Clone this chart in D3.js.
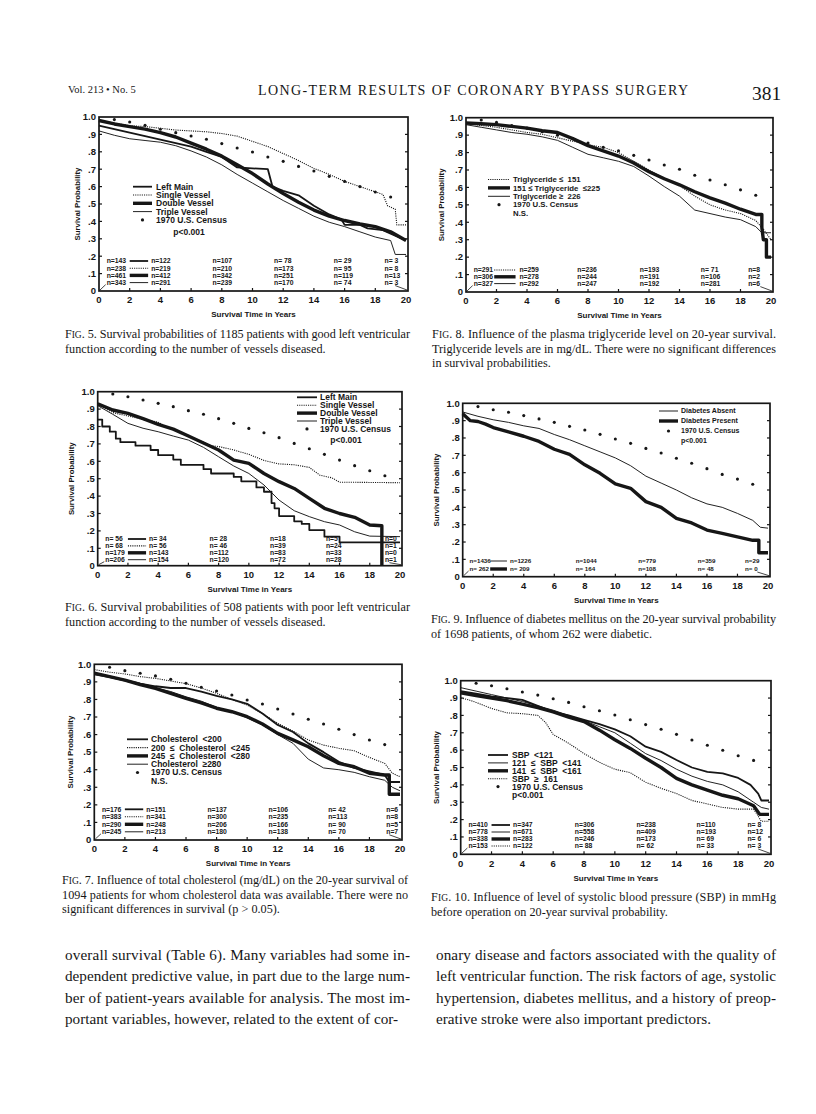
<!DOCTYPE html>
<html><head><meta charset="utf-8">
<script src="https://cdn.jsdelivr.net/npm/d3@7"></script>
<style>body{margin:0;background:#fff} svg{display:block}</style>
</head><body><svg id="page" width="816" height="1114"></svg>
<script>
// ---------- shared ticks ----------
const yTickVals = [0,.1,.2,.3,.4,.5,.6,.7,.8,.9,1];
const yTickLabels = ["0",".1",".2",".3",".4",".5",".6",".7",".8",".9","1.0"];
const xTickVals = [0,2,4,6,8,10,12,14,16,18,20];
const censusYears = [1,2,3,4,5,6,7,8,9,10,11,12,13,14,15,16,17,18,19];
const vesselLabels = ["Left Main","Single Vessel","Double Vessel","Triple Vessel"];

// ---------- Fig 5 ----------
const fig5LeftMain = [[0,.95],[1,.93],[2,.91],[3,.89],[4,.87],[5,.85],[6,.83],[7,.80],[8,.77],[8.5,.74],[9,.71],[11,.70],[11.3,.60],[12,.575],[13,.55],[14,.49],[15,.44],[15.8,.41],[16,.38],[17,.38],[17.5,.36],[18.5,.35],[19,.33],[20,.29]];
const fig5Single = [[0,.98],[1,.965],[2,.95],[3,.945],[4,.935],[5,.925],[6,.92],[7,.915],[8,.905],[9,.89],[10,.86],[11,.83],[12,.79],[13,.75],[14,.705],[15,.67],[16,.63],[17,.60],[18,.57],[18.5,.555],[18.8,.49],[19.3,.47],[19.4,.38],[20,.38]];
const fig5Double = [[0,.98],[1,.96],[2,.945],[3,.93],[4,.91],[5,.885],[6,.85],[7,.815],[8,.775],[9,.725],[10,.675],[11,.615],[12,.56],[13,.51],[14,.465],[15,.43],[16,.405],[17,.385],[18,.37],[19,.34],[20,.29]];
const fig5Triple = [[0,.92],[1,.895],[2,.875],[3,.865],[4,.855],[5,.835],[6,.805],[7,.77],[8,.725],[9,.67],[10,.62],[11,.57],[12,.52],[13,.475],[14,.43],[15,.395],[16,.37],[17,.34],[18,.31],[19,.29],[19.3,.21],[20,.21]];
const fig5Census = [.985,.971,.952,.93,.91,.891,.872,.847,.822,.799,.770,.745,.716,.69,.659,.63,.60,.569,.54];
const fig5NRows = [
 ["n=143","n=122","n=107","n= 78","n= 29","n= 3"],
 ["n=238","n=219","n=210","n=173","n= 95","n= 8"],
 ["n=461","n=412","n=342","n=251","n=119","n=13"],
 ["n=343","n=291","n=239","n=170","n= 74","n= 3"]];

// ---------- Fig 8 ----------
const fig8Labels = ["Triglyceride \u2264  151","151 \u2264 Triglyceride  \u2264225","Triglyceride \u2265  226"];
const fig8Low = [[0,.97],[1,.955],[2,.945],[3,.93],[4,.915],[5,.905],[6,.885],[7,.865],[8,.845],[9,.83],[10,.80],[11,.75],[12,.70],[13,.655],[14,.61],[15,.55],[16,.50],[17,.47],[18,.45],[19,.41],[19.5,.36],[20,.30]];
const fig8Mid = [[0,.97],[1,.965],[2,.96],[3,.95],[4,.94],[5,.925],[6,.915],[7,.88],[8,.84],[9,.81],[10,.78],[11,.74],[12,.69],[13,.65],[14,.615],[15,.575],[16,.54],[17,.51],[18,.475],[19,.445],[19.4,.445],[19.4,.37],[19.5,.30],[19.7,.30],[19.7,.20],[20,.20]];
const fig8High = [[0,.96],[1,.945],[2,.93],[3,.915],[4,.905],[5,.89],[6,.87],[7,.83],[8,.79],[9,.77],[10,.75],[11,.72],[12,.665],[13,.605],[14,.55],[15,.47],[16,.45],[17,.43],[18,.415],[19,.375],[19.4,.34],[20,.34]];
const fig8Census = [.987,.973,.955,.94,.92,.90,.88,.855,.83,.81,.784,.757,.729,.704,.670,.643,.615,.586,.555];
const fig8NRows = [
 ["n=291","n=259","n=236","n=193","n= 71","n=8"],
 ["n=306","n=278","n=244","n=191","n=106","n=2"],
 ["n=327","n=292","n=247","n=192","n=281","n=6"]];

// ---------- Fig 6 ----------
const fig6LeftMain = [[0,.84],[0.3,.80],[0.8,.77],[1.2,.73],[1.5,.71],[2.5,.69],[3.5,.665],[4,.635],[5,.61],[5.5,.58],[7,.555],[7.5,.53],[9,.51],[9.5,.485],[10.5,.45],[11,.425],[11.5,.36],[11.7,.33],[12,.285],[13,.255],[13.5,.24],[14,.205],[15,.167],[16,.134],[20,.134]];
const fig6Single = [[0,.93],[1,.88],[2,.86],[3,.84],[4,.825],[4.5,.80],[5,.78],[6,.745],[7,.71],[7.5,.69],[8,.685],[9,.665],[10,.64],[11,.605],[12,.585],[13,.58],[14,.565],[14.7,.52],[15.5,.505],[16,.48],[20,.477]];
const fig6Double = [[0,.93],[1,.895],[2,.875],[3,.845],[4,.812],[5,.785],[6,.745],[7,.705],[8,.665],[9,.607],[10,.588],[11,.53],[12,.483],[13,.444],[14,.387],[15,.33],[16,.30],[17,.278],[18,.234],[18.8,.23],[18.8,0]];
const fig6Triple = [[0,.92],[1,.87],[2,.818],[3,.79],[4,.77],[5,.745],[6,.722],[7,.68],[8,.626],[9,.573],[10,.53],[11,.464],[12,.377],[13,.316],[14,.282],[15,.253],[16,.234],[17,.195],[18,.17],[20,.167]];
const fig6Census = [.987,.971,.952,.933,.914,.891,.870,.845,.818,.789,.764,.736,.703,.672,.640,.607,.575,.546,.517];
const fig6NRows = [
 ["n= 56","n= 34","n= 28","n=18","n=5","n=0"],
 ["n= 68","n= 56","n= 46","n=39","n=24","n=1"],
 ["n=179","n=143","n=112","n=83","n=33","n=0"],
 ["n=206","n=154","n=120","n=72","n=28","n=1"]];

// ---------- Fig 9 ----------
const fig9Labels = ["Diabetes Absent","Diabetes Present"];
const fig9Absent = [[0,.95],[1,.925],[2,.905],[3,.89],[4,.87],[5,.855],[6,.82],[7,.79],[8,.755],[9,.72],[10,.685],[11,.64],[12,.58],[13,.54],[14,.50],[15,.455],[16,.42],[17,.40],[18,.365],[19,.325],[19.5,.285],[20,.28]];
const fig9Present = [[0,.94],[0.5,.90],[1,.895],[1.5,.88],[2,.86],[3,.835],[4,.81],[5,.78],[6,.735],[7,.705],[8,.645],[9,.596],[10,.535],[11,.51],[12,.433],[13,.40],[14,.337],[15,.31],[16,.269],[17,.25],[18,.23],[19,.21],[19.4,.21],[19.4,.138],[20,.138]];
const fig9Census = [.981,.963,.948,.929,.91,.89,.867,.846,.821,.794,.769,.740,.713,.683,.654,.623,.590,.563,.533];
const fig9NRows = [
 ["n=1436","n=1226","n=1044","n=779","n=359","n=29"],
 ["n= 262","n= 209","n= 164","n=108","n= 48","n= 0"]];

// ---------- Fig 7 ----------
const fig7Labels = ["Cholesterol  <200","200  \u2264  Cholesterol  <245","245  \u2264  Cholesterol  <280","Cholesterol  \u2265280"];
const fig7Low = [[0,.95],[1,.93],[2,.91],[3,.89],[4,.875],[5,.865],[6,.865],[7,.845],[8,.82],[9,.80],[10,.775],[11,.72],[12,.655],[13,.615],[14,.55],[15,.50],[16,.445],[17,.41],[18,.39],[19,.37],[19.3,.33],[20,.33]];
const fig7Mid = [[0,.97],[1,.955],[2,.945],[3,.93],[4,.92],[5,.905],[6,.89],[7,.865],[8,.835],[9,.80],[10,.768],[11,.72],[12,.664],[13,.62],[14,.569],[15,.54],[16,.522],[17,.508],[18,.47],[19,.436],[19.5,.38],[20,.36]];
const fig7High = [[0,.95],[1,.93],[2,.91],[3,.885],[4,.863],[5,.835],[6,.806],[7,.78],[8,.75],[9,.73],[10,.702],[11,.66],[12,.607],[13,.57],[14,.531],[15,.48],[16,.436],[17,.417],[18,.38],[19,.37],[19.3,.37],[19.3,.26],[20,.26]];
const fig7VHigh = [[0,.94],[1,.925],[2,.905],[3,.885],[4,.865],[5,.845],[6,.815],[7,.79],[8,.755],[9,.73],[10,.695],[11,.655],[12,.60],[13,.55],[14,.46],[15,.41],[16,.40],[17,.385],[18,.36],[19,.34],[19.5,.30],[20,.28]];
const fig7Census = [.983,.964,.949,.934,.915,.892,.869,.848,.825,.797,.774,.746,.717,.687,.66,.63,.60,.569,.543];
const fig7NRows = [
 ["n=176","n=151","n=137","n=106","n= 42","n=6"],
 ["n=383","n=341","n=300","n=235","n=113","n=8"],
 ["n=290","n=248","n=206","n=166","n= 90","n=5"],
 ["n=245","n=213","n=180","n=138","n= 70","n=7"]];

// ---------- Fig 10 ----------
const fig10Labels = ["SBP  <121","121  \u2264  SBP  <141","141  \u2264  SBP  <161","SBP  \u2265  161"];
const fig10Low = [[0,.94],[1,.925],[2,.91],[3,.90],[4,.89],[5,.855],[6,.82],[7,.80],[8,.775],[9,.75],[10,.72],[11,.68],[12,.62],[13,.59],[14,.543],[15,.50],[16,.475],[17,.466],[18,.44],[18.8,.40],[19.3,.35],[19.5,.31],[20,.31]];
const fig10Mid = [[0,.96],[1,.94],[2,.92],[3,.90],[4,.88],[5,.855],[6,.83],[7,.80],[8,.77],[9,.735],[10,.70],[11,.64],[12,.58],[13,.54],[14,.49],[15,.45],[16,.42],[17,.40],[18,.36],[19,.30],[19.5,.27],[20,.26]];
const fig10High = [[0,.93],[1,.915],[2,.90],[3,.885],[4,.865],[5,.845],[6,.82],[7,.79],[8,.765],[9,.715],[10,.66],[11,.61],[12,.553],[13,.50],[14,.437],[15,.40],[16,.37],[17,.34],[18,.32],[19,.28],[19.4,.23],[20,.23]];
const fig10VHigh = [[0,.90],[0.5,.89],[1,.875],[2,.84],[3,.815],[4,.81],[5,.80],[5.5,.76],[6,.69],[7,.64],[8,.58],[9,.53],[10,.49],[11,.47],[12,.415],[13,.38],[14,.35],[15,.31],[16,.29],[17,.27],[18,.26],[19,.26],[19.3,.22],[19.5,.19],[20,.19]];
const fig10Census = [.985,.971,.954,.935,.917,.896,.875,.850,.827,.802,.775,.747,.720,.691,.658,.628,.599,.568,.541];
const fig10NRows = [
 ["n=410","n=347","n=306","n=238","n=110","n= 8"],
 ["n=778","n=671","n=558","n=409","n=193","n=12"],
 ["n=338","n=283","n=246","n=173","n= 69","n= 6"],
 ["n=153","n=122","n= 88","n= 62","n= 33","n= 3"]];

// ---------- text ----------
const headerLeft = "Vol. 213 \u2022 No. 5";
const headerTitle = "LONG-TERM RESULTS OF CORONARY BYPASS SURGERY";
const pageNumber = "381";
const cap5 = ["Fig. 5. Survival probabilities of 1185 patients with good left ventricular","function according to the number of vessels diseased."];
const cap8 = ["Fig. 8. Influence of the plasma triglyceride level on 20-year survival.","Triglyceride levels are in mg/dL. There were no significant differences","in survival probabilities."];
const cap6 = ["Fig. 6. Survival probabilities of 508 patients with poor left ventricular","function according to the number of vessels diseased."];
const cap9 = ["Fig. 9. Influence of diabetes mellitus on the 20-year survival probability","of 1698 patients, of whom 262 were diabetic."];
const cap7 = ["Fig. 7. Influence of total cholesterol (mg/dL) on the 20-year survival of","1094 patients for whom cholesterol data was available. There were no","significant differences in survival (p > 0.05)."];
const cap10 = ["Fig. 10. Influence of level of systolic blood pressure (SBP) in mmHg","before operation on 20-year survival probability."];
const bodyLeft = ["overall survival (Table 6). Many variables had some in-","dependent predictive value, in part due to the large num-","ber of patient-years available for analysis. The most im-","portant variables, however, related to the extent of cor-"];
const bodyRight = ["onary disease and factors associated with the quality of","left ventricular function. The risk factors of age, systolic","hypertension, diabetes mellitus, and a history of preop-","erative stroke were also important predictors."];

// ---------- drawing ----------
const svg = d3.select("#page");
svg.append("rect").attr("width",816).attr("height",1114).attr("fill","#fff");
const INK = "#161616";
const SANS = "'Liberation Sans', Arial, Helvetica, sans-serif";
const SERIF = "'Liberation Serif', 'Times New Roman', serif";
const lineStyles = {
  thick:{w:3.4,dash:null},
  medium:{w:1.8,dash:null},
  thin:{w:0.95,dash:null},
  dotted:{w:1.1,dash:"1.1,1.1"}
};

function styleLine(sel, st){
  sel.attr("stroke",INK).attr("stroke-width",lineStyles[st].w).attr("fill","none");
  if(lineStyles[st].dash) sel.attr("stroke-dasharray",lineStyles[st].dash);
  return sel;
}

function drawPanel(p){
  const x = d3.scaleLinear().domain([0,20]).range([p.left,p.right]);
  const y = d3.scaleLinear().domain([0,1]).range([p.bottom,p.top]);
  const g = svg.append("g");
  const fr = p.right+2;
  g.append("rect").attr("x",p.left).attr("y",p.top).attr("width",fr-p.left).attr("height",p.bottom-p.top)
    .attr("fill","none").attr("stroke",INK).attr("stroke-width",1.7);
  yTickVals.forEach((v,i)=>{
    if(i>0 && i<yTickVals.length-1){
      g.append("line").attr("x1",p.left).attr("x2",p.left+3).attr("y1",y(v)).attr("y2",y(v)).attr("stroke",INK).attr("stroke-width",1.2);
      g.append("line").attr("x1",fr-3).attr("x2",fr).attr("y1",y(v)).attr("y2",y(v)).attr("stroke",INK).attr("stroke-width",1.2);
    }
    g.append("text").attr("x",p.left-3).attr("y",y(v)).attr("dy","0.35em").attr("text-anchor","end")
      .attr("font-family",SANS).attr("font-weight","bold").attr("font-size",9.5).attr("fill",INK).text(yTickLabels[i]);
  });
  xTickVals.forEach(v=>{
    if(v>0 && v<20) g.append("line").attr("x1",x(v)).attr("x2",x(v)).attr("y1",p.bottom).attr("y2",p.bottom-3).attr("stroke",INK).attr("stroke-width",1.2);
    g.append("text").attr("x",x(v)).attr("y",p.bottom+9).attr("dy","0.35em").attr("text-anchor","middle")
      .attr("font-family",SANS).attr("font-weight","bold").attr("font-size",9.5).attr("fill",INK).text(v);
  });
  g.append("text").attr("x",(p.left+fr)/2).attr("y",p.bottom+23.5).attr("dy","0.35em").attr("text-anchor","middle")
    .attr("font-family",SANS).attr("font-weight","bold").attr("font-size",8).attr("fill",INK).text("Survival Time in Years");
  g.append("text").attr("transform",`translate(${p.left-p.yTitleOff},${(p.top+p.bottom)/2}) rotate(-90)`).attr("dy","0.35em")
    .attr("text-anchor","middle").attr("font-family",SANS).attr("font-weight","bold").attr("font-size",7.8).attr("fill",INK).text("Survival Probability");
  p.census.forEach((v,i)=>{
    g.append("circle").attr("cx",x(censusYears[i])).attr("cy",y(v)).attr("r",1.55).attr("fill",INK);
  });
  p.series.forEach(s=>{
    const ln = d3.line().x(d=>x(d[0])).y(d=>y(d[1])).curve(s.step?d3.curveStepAfter:d3.curveLinear);
    styleLine(g.append("path").attr("d",ln(s.data)),s.style).attr("stroke-linejoin","round");
  });
  const L = p.legend;
  p.legendLabels.forEach((lab,i)=>{
    const yy = L.y + i*L.dy;
    styleLine(g.append("line").attr("x1",L.x1).attr("x2",L.x2).attr("y1",yy).attr("y2",yy),p.series[i].style);
    g.append("text").attr("x",L.tx).attr("y",yy).attr("dy","0.35em").attr("font-family",SANS).attr("font-weight","bold")
      .attr("font-size",L.size).attr("fill",INK).style("white-space","pre").text(lab);
  });
  const cy = L.y + p.legendLabels.length*L.dy;
  g.append("circle").attr("cx",(L.x1+L.x2)/2).attr("cy",cy).attr("r",1.6).attr("fill",INK);
  g.append("text").attr("x",L.tx).attr("y",cy).attr("dy","0.35em").attr("font-family",SANS).attr("font-weight","bold")
    .attr("font-size",L.size).attr("fill",INK).text("1970 U.S. Census");
  g.append("text").attr("x",L.sigX).attr("y",cy+L.sigDy).attr("dy","0.35em").attr("text-anchor",L.sigAnchor)
    .attr("font-family",SANS).attr("font-weight","bold").attr("font-size",L.size).attr("fill",INK).text(p.sig);
  const N = p.ntab;
  p.nRows.forEach((row,r)=>{
    const yy = p.bottom - N.top + r*N.dy;
    row.forEach((t,c)=>{
      g.append("text").attr("x",x(N.cols[c])).attr("y",yy).attr("dy","0.35em").attr("font-family",SANS).attr("font-weight","bold")
        .attr("font-size",N.size).attr("fill",INK).style("white-space","pre").text(t);
    });
    styleLine(g.append("line").attr("x1",x(N.line[0])).attr("x2",x(N.line[1])).attr("y1",yy).attr("y2",yy),p.series[N.order[r]].style);
  });
  const lastY = p.bottom - N.top + (p.nRows.length-1)*N.dy;
  g.append("line").attr("x1",p.left+1).attr("y1",p.bottom-1).attr("x2",x(N.cols[0])-1).attr("y2",lastY+2).attr("stroke",INK).attr("stroke-width",0.8);
  g.append("line").attr("x1",x(19.3)).attr("y1",lastY+3).attr("x2",fr-1).attr("y2",p.bottom-1).attr("stroke",INK).attr("stroke-width",0.8);
}

const panels = [
 {left:99,right:406,top:117,bottom:291,yTitleOff:22,
  series:[{data:fig5LeftMain,style:"medium"},{data:fig5Single,style:"dotted"},{data:fig5Double,style:"thick"},{data:fig5Triple,style:"thin"}],
  census:fig5Census,legendLabels:vesselLabels,sig:"p<0.001",
  legend:{x1:133,x2:152,tx:156,y:186.7,dy:8.3,size:8.5,sigX:189,sigDy:12.5,sigAnchor:"middle"},
  nRows:fig5NRows,ntab:{top:30,dy:7.2,size:6.8,cols:[0.5,3.4,7.4,11.4,15.3,18.6],line:[2.0,3.2],order:[0,1,2,3]}},
 {left:466,right:771,top:117.7,bottom:292,yTitleOff:25,
  series:[{data:fig8Low,style:"dotted"},{data:fig8Mid,style:"thick"},{data:fig8High,style:"thin"}],
  census:fig8Census,legendLabels:fig8Labels,sig:"N.S.",
  legend:{x1:488,x2:510,tx:513,y:179.5,dy:8.4,size:7.8,sigX:513,sigDy:8.4,sigAnchor:"start"},
  nRows:fig8NRows,ntab:{top:22,dy:6.8,size:6.8,cols:[0.5,3.5,7.3,11.4,15.4,18.5],line:[1.85,3.25],order:[0,1,2]}},
 {left:97.7,right:400,top:391.7,bottom:565.7,yTitleOff:26,
  series:[{data:fig6LeftMain,style:"medium",step:true},{data:fig6Single,style:"dotted"},{data:fig6Double,style:"thick"},{data:fig6Triple,style:"thin"}],
  census:fig6Census,legendLabels:vesselLabels,sig:"p<0.001",
  legend:{x1:297,x2:317,tx:320,y:397.3,dy:7.9,size:8.5,sigX:346,sigDy:10.7,sigAnchor:"middle"},
  nRows:fig6NRows,ntab:{top:26.7,dy:6.9,size:6.8,cols:[0.5,3.4,7.4,11.4,15.1,19.0],line:[2.0,3.2],order:[0,1,2,3]}},
 {left:462.7,right:768,top:403.3,bottom:576.7,yTitleOff:26,
  series:[{data:fig9Absent,style:"thin"},{data:fig9Present,style:"thick"}],
  census:fig9Census,legendLabels:fig9Labels,sig:"p<0.001",
  legend:{x1:659,x2:678,tx:681,y:411,dy:10,size:7,sigX:681,sigDy:9.3,sigAnchor:"start"},
  nRows:fig9NRows,ntab:{top:15.7,dy:8,size:6.2,cols:[0.45,3.1,7.4,11.5,15.4,18.5],line:[1.8,2.9],order:[0,1]}},
 {left:94.3,right:400,top:664.3,bottom:840,yTitleOff:24,
  series:[{data:fig7Low,style:"medium"},{data:fig7Mid,style:"dotted"},{data:fig7High,style:"thick"},{data:fig7VHigh,style:"thin"}],
  census:fig7Census,legendLabels:fig7Labels,sig:"N.S.",
  legend:{x1:127,x2:148,tx:151,y:739.3,dy:8.3,size:8.5,sigX:151,sigDy:9,sigAnchor:"start"},
  nRows:fig7NRows,ntab:{top:30.7,dy:7.5,size:6.8,cols:[0.5,3.4,7.4,11.4,15.3,19.1],line:[2.0,3.2],order:[0,1,2,3]}},
 {left:460.7,right:769,top:680.7,bottom:854.3,yTitleOff:24,
  series:[{data:fig10Low,style:"medium"},{data:fig10Mid,style:"thin"},{data:fig10High,style:"thick"},{data:fig10VHigh,style:"dotted"}],
  census:fig10Census,legendLabels:fig10Labels,sig:"p<0.001",
  legend:{x1:488,x2:508,tx:512,y:755,dy:7.9,size:8.5,sigX:512,sigDy:8.4,sigAnchor:"start"},
  nRows:fig10NRows,ntab:{top:29.3,dy:7,size:6.8,cols:[0.5,3.4,7.4,11.4,15.3,18.6],line:[2.0,3.2],order:[0,1,2,3]}}
];
panels.forEach(drawPanel);

// ---------- page text ----------
function caption(x,y,width,lines,size,lh){
  lines.forEach((ln,i)=>{
    const t = svg.append("text").attr("x",x).attr("y",y+i*lh).attr("font-family",SERIF).attr("font-size",size).attr("fill",INK);
    if(i===0 && ln.startsWith("Fig.")){
      t.append("tspan").text("F");
      t.append("tspan").attr("font-size",size*0.78).text("IG");
      t.append("tspan").text(ln.slice(3));
    } else t.text(ln);
    if(i<lines.length-1) t.attr("textLength",width).attr("lengthAdjust","spacing");
  });
}
svg.append("text").attr("x",68).attr("y",92.5).attr("font-family",SERIF).attr("font-size",10.5).attr("fill",INK).text(headerLeft);
svg.append("text").attr("x",258).attr("y",95).attr("font-family",SERIF).attr("font-size",14).attr("fill",INK)
  .attr("textLength",430).attr("lengthAdjust","spacing").text(headerTitle);
svg.append("text").attr("x",752).attr("y",100).attr("font-family",SERIF).attr("font-size",19.5).attr("fill",INK).text(pageNumber);

caption(65,338,345,cap5,12.2,14.6);
caption(432,338,344,cap8,12.2,14.6);
caption(65,611,345,cap6,12.2,14.6);
caption(431,623,345,cap9,12.2,14.6);
caption(62,884,346,cap7,12.2,14.6);
caption(431,901,345,cap10,12.2,14.6);
caption(65,959.5,345,bodyLeft,15.2,21.5);
caption(436,959.5,340,bodyRight,15.2,21.5);
</script></body></html>
